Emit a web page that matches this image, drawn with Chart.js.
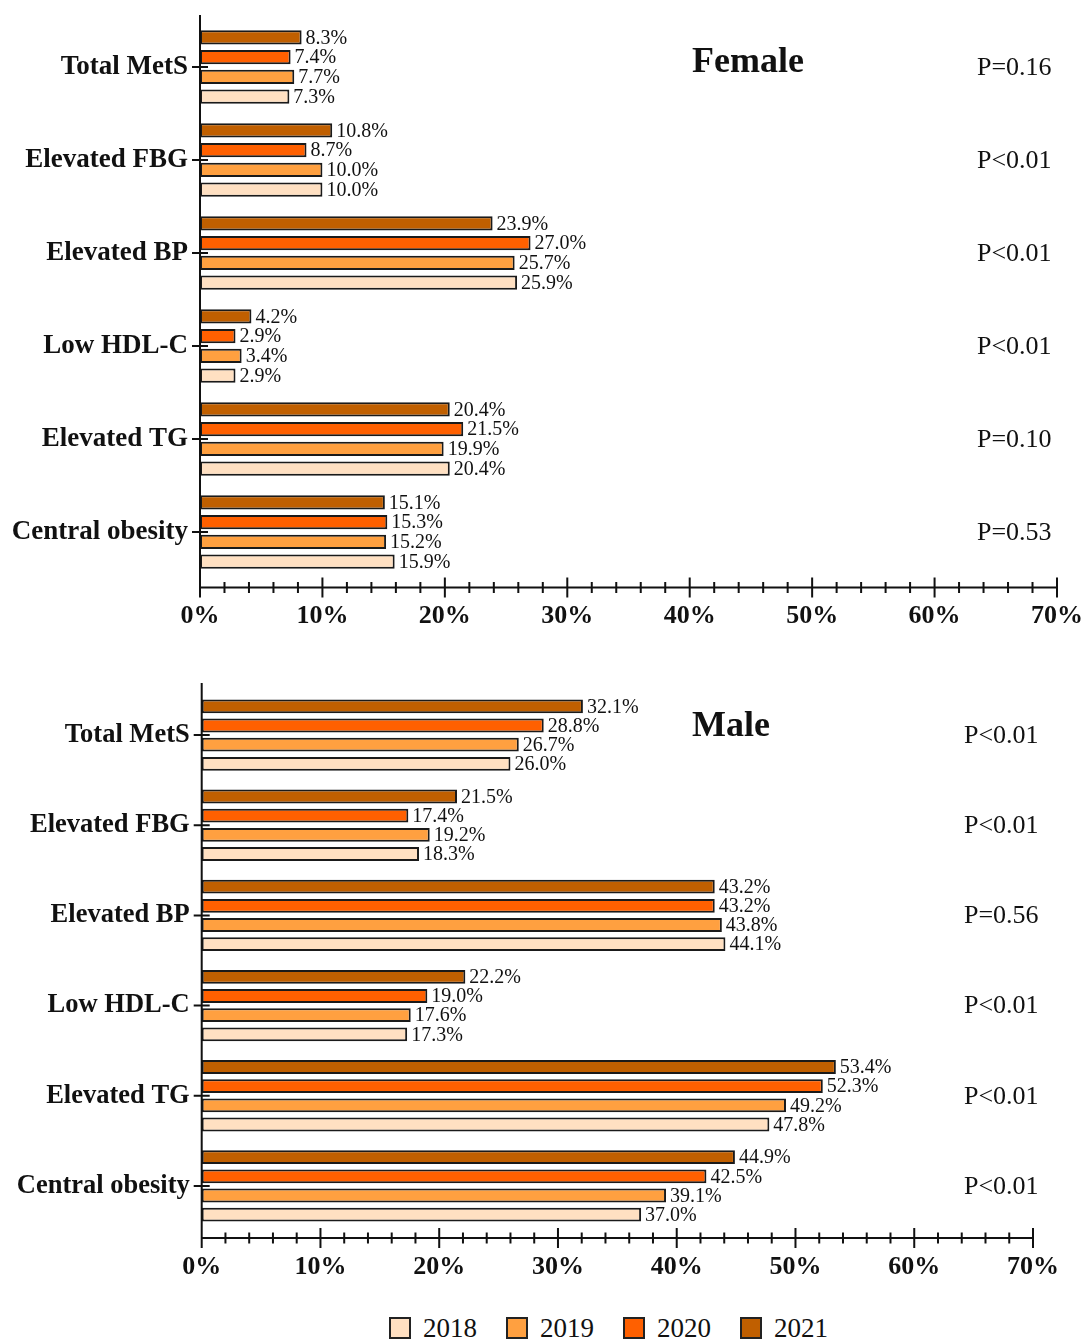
<!DOCTYPE html>
<html>
<head>
<meta charset="utf-8">
<script src="https://cdn.jsdelivr.net/npm/chart.js@4.4.0/dist/chart.umd.min.js"></script>
<style>
  html, body { margin: 0; padding: 0; background: #fff; }
  body { width: 1083px; height: 1340px; position: relative; overflow: hidden; font-family: "Liberation Serif", "Times New Roman", serif; }
  #wrapF { position: absolute; left: 0; top: 0; width: 1083px; height: 650px; }
  #wrapM { position: absolute; left: 0; top: 660px; width: 1083px; height: 620px; }
  #legend { position: absolute; left: 389px; top: 1312px; display: flex; align-items: center; height: 32px; }
  .item { display: flex; align-items: center; margin-right: 29px; font-size: 27px; color: #111; }
  .box { width: 18px; height: 18px; border: 2px solid #222; margin-right: 12px; }
</style>
</head>
<body>
<div id="wrapF"><canvas id="female" width="1083" height="650"></canvas></div>
<div id="wrapM"><canvas id="male" width="1083" height="620"></canvas></div>
<div id="legend"></div>
<script>
// ---- data ----
const categories = ["Total MetS", "Elevated FBG", "Elevated BP", "Low HDL-C", "Elevated TG", "Central obesity"];
const years = ["2018", "2019", "2020", "2021"];
const female2018 = [7.3, 10.0, 25.9, 2.9, 20.4, 15.9];
const female2019 = [7.7, 10.0, 25.7, 3.4, 19.9, 15.2];
const female2020 = [7.4, 8.7, 27.0, 2.9, 21.5, 15.3];
const female2021 = [8.3, 10.8, 23.9, 4.2, 20.4, 15.1];
const femaleP = ["P=0.16", "P<0.01", "P<0.01", "P<0.01", "P=0.10", "P=0.53"];
const male2018 = [26.0, 18.3, 44.1, 17.3, 47.8, 37.0];
const male2019 = [26.7, 19.2, 43.8, 17.6, 49.2, 39.1];
const male2020 = [28.8, 17.4, 43.2, 19.0, 52.3, 42.5];
const male2021 = [32.1, 21.5, 43.2, 22.2, 53.4, 44.9];
const maleP = ["P<0.01", "P<0.01", "P=0.56", "P<0.01", "P<0.01", "P<0.01"];
const xMin = 0, xMax = 70, xStep = 10, xMinorStep = 2;

const colors = { "2018": "#FFE0C2", "2019": "#FFA040", "2020": "#FF6000", "2021": "#C05F00" };
const FONT = '"Liberation Serif", "Times New Roman", serif';

const customPlugin = {
  id: 'custom',
  afterDatasetsDraw(chart, args, opts) {
    const { ctx } = chart;
    ctx.save();
    ctx.font = '20px ' + FONT;
    ctx.fillStyle = '#111';
    ctx.textAlign = 'left';
    ctx.textBaseline = 'middle';
    chart.data.datasets.forEach((ds, di) => {
      const meta = chart.getDatasetMeta(di);
      meta.data.forEach((el, i) => {
        ctx.fillText(ds.data[i].toFixed(1) + '%', el.x + 4, el.y + 1);
      });
    });
    ctx.restore();
  },
  afterDraw(chart, args, opts) {
    const { ctx, chartArea } = chart;
    const x = chart.scales.x, y = chart.scales.y;
    const axisY = chartArea.bottom + opts.axisGap;
    const top = chartArea.top - opts.topExt;
    ctx.save();
    ctx.strokeStyle = '#111';
    ctx.lineWidth = 2;
    ctx.beginPath();
    ctx.moveTo(chartArea.left, top);
    ctx.lineTo(chartArea.left, axisY + 10);
    ctx.moveTo(chartArea.left, axisY);
    ctx.lineTo(x.getPixelForValue(xMax), axisY);
    for (let v = xMin; v <= xMax + 1e-9; v += xMinorStep) {
      const px = x.getPixelForValue(v);
      const major = Math.abs(v % xStep) < 1e-9;
      const h = major ? 10 : 5.5;
      ctx.moveTo(px, axisY - h);
      ctx.lineTo(px, axisY + h);
    }
    for (let i = 0; i < chart.data.labels.length; i++) {
      const py = y.getPixelForValue(i);
      ctx.moveTo(chartArea.left - 8, py);
      ctx.lineTo(chartArea.left + 8, py);
    }
    ctx.stroke();
    // P values
    ctx.fillStyle = '#111';
    ctx.font = '26px ' + FONT;
    ctx.textAlign = 'left';
    ctx.textBaseline = 'middle';
    opts.pvals.forEach((p, i) => {
      ctx.fillText(p, opts.pX, y.getPixelForValue(i) + 1);
    });
    // title
    ctx.font = 'bold 36px ' + FONT;
    ctx.fillText(opts.title, opts.titleX, opts.titleY);
    ctx.restore();
  }
};

function zeroPad(s) { s.paddingLeft = 0; s.paddingRight = 0; s.paddingTop = 0; s.paddingBottom = 0; }

function makeChart(id, d2018, d2019, d2020, d2021, cfg) {
  const dsList = [["2021", d2021], ["2020", d2020], ["2019", d2019], ["2018", d2018]];
  return new Chart(document.getElementById(id), {
    type: 'bar',
    data: {
      labels: categories,
      datasets: dsList.map(([yr, arr]) => ({
        label: yr,
        data: arr,
        backgroundColor: colors[yr],
        borderColor: '#1a1a1a',
        borderWidth: 2,
        borderSkipped: false,
        categoryPercentage: 0.85,
        barPercentage: 0.72
      }))
    },
    options: {
      indexAxis: 'y',
      responsive: false,
      animation: false,
      layout: { padding: { top: cfg.padTop, right: cfg.padRight, left: 0, bottom: 0 } },
      scales: {
        x: {
          min: xMin, max: xMax,
          grid: { display: false, drawTicks: false },
          border: { display: false },
          ticks: {
            stepSize: xStep,
            callback: v => v + '%',
            font: { family: FONT, size: 26, weight: 'bold' },
            color: '#111',
            padding: cfg.xPad,
            maxRotation: 0
          },
          afterFit: s => { s.height = cfg.xHeight; zeroPad(s); }
        },
        y: {
          grid: { display: false, drawTicks: false },
          border: { display: false },
          ticks: {
            font: { family: FONT, size: cfg.yFont, weight: 'bold' },
            color: '#111',
            padding: 12
          },
          afterFit: s => { s.width = cfg.yWidth; zeroPad(s); }
        }
      },
      plugins: {
        legend: { display: false },
        tooltip: { enabled: false },
        custom: cfg.custom
      }
    },
    plugins: [customPlugin]
  });
}

const chartF = makeChart('female', female2018, female2019, female2020, female2021, {
  padTop: 20.5, padRight: 26, xHeight: 71.5, yWidth: 200, xPad: 22, yFont: 27,
  custom: { axisGap: 9, topExt: 5.5, pvals: femaleP, pX: 977, title: 'Female', titleX: 692, titleY: 63 }
});
const chartM = makeChart('male', male2018, male2019, male2020, male2021, {
  padTop: 30, padRight: 50, xHeight: 49, yWidth: 201.7, xPad: 21, yFont: 26.5,
  custom: { axisGap: 7, topExt: 7, pvals: maleP, pX: 964, title: 'Male', titleX: 692, titleY: 67 }
});

// legend built from the datasets
const legend = document.getElementById('legend');
chartM.data.datasets.slice().reverse().forEach(ds => {
  const item = document.createElement('div');
  item.className = 'item';
  const box = document.createElement('span');
  box.className = 'box';
  box.style.background = ds.backgroundColor;
  const txt = document.createElement('span');
  txt.textContent = ds.label;
  item.appendChild(box);
  item.appendChild(txt);
  legend.appendChild(item);
});
</script>
</body>
</html>
